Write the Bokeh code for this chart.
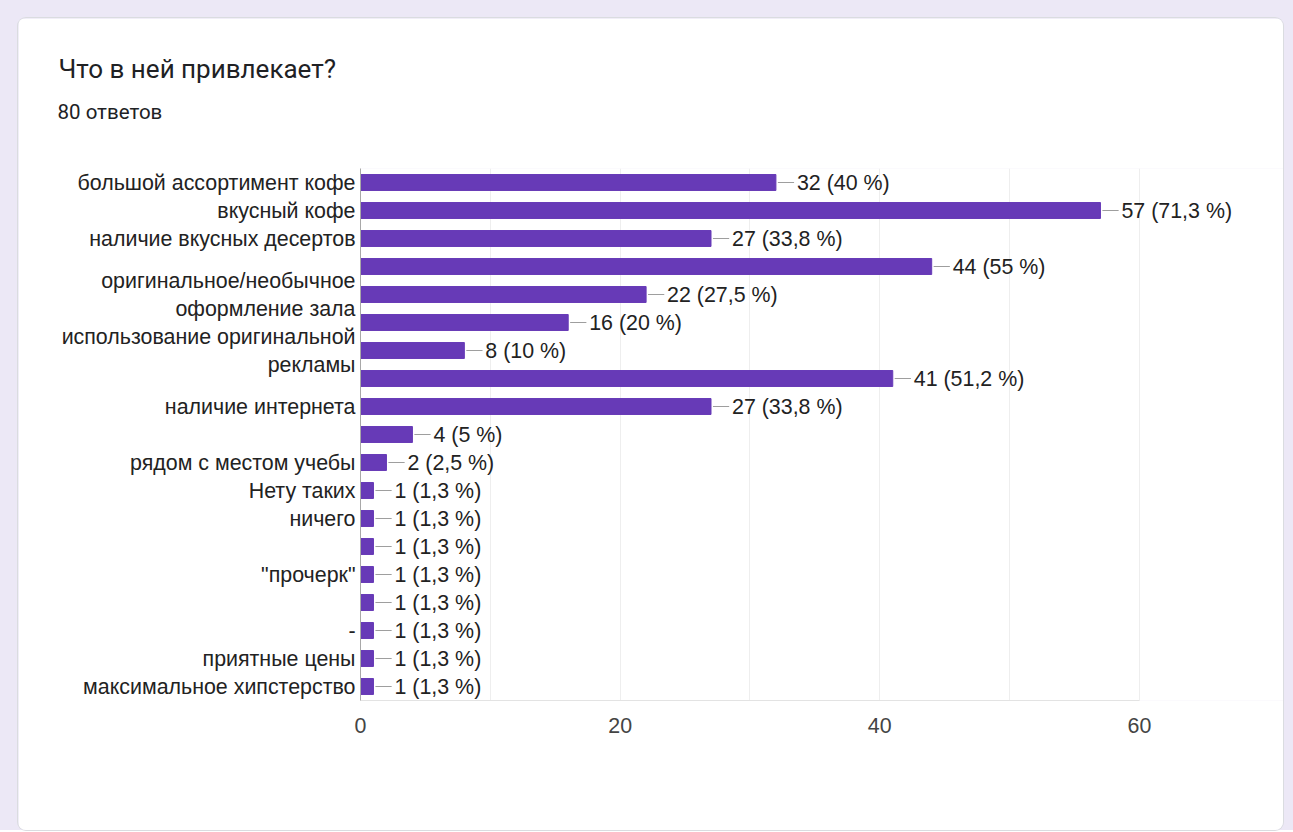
from bokeh.plotting import figure
from bokeh.models import ColumnDataSource, FixedTicker, Range1d, Title
from bokeh.layouts import column
from bokeh.core.properties import value
from bokeh.embed import file_html
from bokeh.resources import INLINE

# ---- data ----
title_text = "Что в ней привлекает?"
subtitle_text = "80 ответов"
counts = [32, 57, 27, 44, 22, 16, 8, 41, 27, 4, 2, 1, 1, 1, 1, 1, 1, 1, 1]
percents = ["40", "71,3", "33,8", "55", "27,5", "20", "10", "51,2", "33,8", "5", "2,5",
            "1,3", "1,3", "1,3", "1,3", "1,3", "1,3", "1,3", "1,3"]
tick_positions = [0, 1, 2, 3.5, 4.5, 5.5, 6.5, 8, 10, 11, 12, 14, 16, 17, 18]
tick_labels = ["большой ассортимент кофе", "вкусный кофе", "наличие вкусных десертов",
               "оригинальное/необычное", "оформление зала",
               "использование оригинальной", "рекламы", "наличие интернета",
               "рядом с местом учебы", "Нету таких", "ничего", '"прочерк"', "-",
               "приятные цены", "максимальное хипстерство"]
x_ticks = [0, 20, 40, 60]
grid_ticks = [10, 20, 30, 40, 50, 60]
axis_max = 60

# ---- styling ----
BAR = "#673ab7"
LABEL_FONT = "Liberation Sans"
TXT = "#222222"
FS = "21.4px"

rows = list(range(len(counts)))
src = ColumnDataSource(dict(
    y=rows,
    v=counts,
    lx0=[c + 0.15 for c in counts],
    lx1=[c + 1.4 for c in counts],
    txt=[f"{c} ({p} %)" for c, p in zip(counts, percents)],
))

p = figure(width=1265, height=812, output_backend="svg", toolbar_location=None,
           x_range=Range1d(0, 71.1), y_range=Range1d(len(counts) - 0.5, -0.5),
           min_border_left=342, min_border_right=0, min_border_top=150,
           min_border_bottom=130)
p.outline_line_color = None
p.background_fill_color = "white"
p.border_fill_color = "white"
p.styles = {"border-radius": "8px", "overflow": "hidden",
            "box-shadow": "0 0 0 1px #dadce0"}

p.hbar(y="y", right="v", left=0, height=0.57, source=src, color=BAR)
p.segment(x0="lx0", x1="lx1", y0="y", y1="y", source=src, line_color="#9e9e9e",
          line_width=1)
p.text(x="v", y="y", text="txt", source=src, x_offset=21, text_baseline="middle",
       text_align="left", text_font=value(LABEL_FONT), text_font_size=FS,
       text_color=TXT)

# x axis
p.xaxis.ticker = FixedTicker(ticks=x_ticks)
p.xaxis.bounds = (0, axis_max)
p.xaxis.axis_line_color = "#e3e3e3"
p.xaxis.major_tick_line_color = None
p.xaxis.minor_tick_line_color = None
p.xaxis.major_label_text_font = LABEL_FONT
p.xaxis.major_label_text_font_size = FS
p.xaxis.major_label_text_color = "#444444"
p.xaxis.major_label_standoff = 11

p.xgrid.ticker = FixedTicker(ticks=grid_ticks)
p.xgrid.grid_line_color = "#eeeeee"
p.ygrid.grid_line_color = None

# y axis
p.yaxis.ticker = FixedTicker(ticks=tick_positions)
p.yaxis.major_label_overrides = {t: l for t, l in zip(tick_positions, tick_labels)}
p.yaxis.axis_line_color = "#a8a8a8"
p.yaxis.major_tick_line_color = None
p.yaxis.minor_tick_line_color = None
p.yaxis.major_tick_out = 0
p.yaxis.major_label_standoff = 5
p.yaxis.major_label_text_font = LABEL_FONT
p.yaxis.major_label_text_font_size = FS
p.yaxis.major_label_text_color = TXT

# heading: a blank spacer panel, then the response count, then the question
p.title = None
p.add_layout(Title(text=" ", align="left", standoff=37, text_font_size="2px"), "above")
p.add_layout(Title(text=subtitle_text, align="left", offset=-303, standoff=8,
                   text_font="Roboto", text_font_size="20.5px", text_font_style="normal",
                   text_color="#202124"), "above")
p.add_layout(Title(text=title_text, align="left", offset=-302, standoff=19,
                   text_font="Roboto", text_font_size="26px", text_font_style="normal",
                   text_color="#202124"), "above")

page = column(p, styles={"background-color": "#ece8f6", "padding": "18px 10px 0px 18px"})

open("out.html", "w").write(file_html(page, INLINE))
